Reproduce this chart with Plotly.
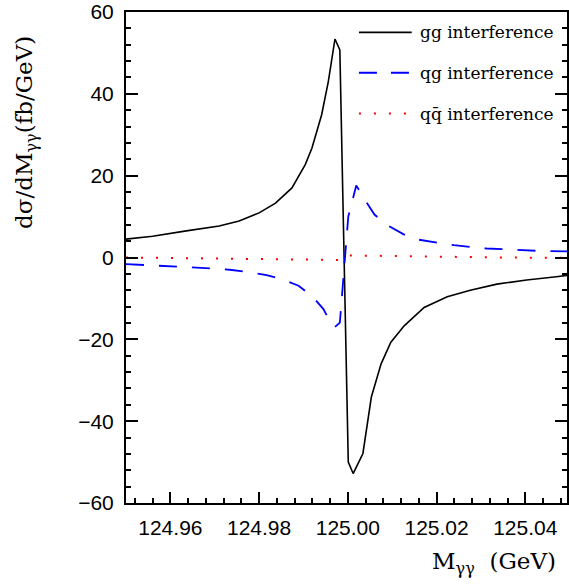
import plotly.graph_objects as go

# gg interference (black solid)
gg_x = [124.950, 124.956, 124.9636, 124.971, 124.9755, 124.980, 124.9837, 124.9874,
        124.9904, 124.9919, 124.9941, 124.9956, 124.9971, 124.9982, 125.0001, 125.0012,
        125.0034, 125.0053, 125.0075, 125.0097, 125.0127, 125.0172, 125.0224, 125.0276,
        125.0336, 125.0403, 125.047, 125.050]
gg_y = [4.5, 5.2, 6.5, 7.7, 8.9, 10.9, 13.3, 17.0,
        22.7, 26.7, 34.9, 43.0, 53.4, 50.7, -50.0, -52.8,
        -47.9, -34.1, -26.0, -20.7, -16.7, -12.2, -9.6, -8.0,
        -6.5, -5.5, -4.7, -4.3]

# qg interference (blue dashed)
qg_x = [124.950, 124.954, 124.958, 124.962, 124.966, 124.9696, 124.9734, 124.9772,
        124.9817, 124.9851, 124.9889, 124.9919, 124.9945, 124.9963, 124.9971, 124.9982,
        125.0001, 125.0019, 125.0038, 125.0060, 125.0086, 125.0127, 125.0157, 125.0202,
        125.0239, 125.0276, 125.0313, 125.0358, 125.0395, 125.0433, 125.050]
qg_y = [-1.6, -1.8, -2.1, -2.3, -2.5, -2.7, -3.0, -3.5,
        -4.3, -5.3, -6.9, -9.4, -12.6, -16.3, -17.0, -15.9,
        10.0, 17.6, 14.2, 10.5, 8.1, 5.6, 4.4, 3.6,
        3.0, 2.6, 2.2, 2.0, 1.75, 1.6, 1.5]

# qqbar interference (red dotted)
qq_x = [124.950, 124.970, 124.990, 124.9982, 125.0001, 125.003, 125.010, 125.020, 125.035, 125.050]
qq_y = [0.0, -0.2, -0.5, -0.6, 0.5, 0.45, 0.3, 0.1, 0.0, -0.1]

legend_labels = ["gg interference", "qg interference", "qq\u0304 interference"]

y_ticks = [-60, -40, -20, 0, 20, 40, 60]
x_ticks = [124.96, 124.98, 125.00, 125.02, 125.04]

fig = go.Figure()
fig.add_trace(go.Scatter(x=gg_x, y=gg_y, mode="lines",
                         line=dict(color="black", width=1.6), name=legend_labels[0]))
fig.add_trace(go.Scatter(x=qg_x, y=qg_y, mode="lines",
                         line=dict(color="blue", width=1.8, dash="18px,15px"), name=legend_labels[1]))
fig.add_trace(go.Scatter(x=qq_x, y=qq_y, mode="lines",
                         line=dict(color="red", width=2, dash="2px,13px"), name=legend_labels[2]))

W, H = 569, 586
L, R, T, B = 126, 0, 10, 83
pw, ph = W - L - R, H - T - B

def px(xp):
    return (xp - L) / pw

def py(yp):
    return (H - B - yp) / ph

styles = [dict(color="black", width=1.6),
          dict(color="blue", width=1.8, dash="18px,14px"),
          dict(color="red", width=2, dash="2px,13px")]
rows = [30.5, 71, 112]
for lab, st, yy in zip(legend_labels, styles, rows):
    fig.add_shape(type="line", xref="paper", yref="paper",
                  x0=px(360), x1=px(413), y0=py(yy), y1=py(yy), line=st)
    fig.add_annotation(xref="paper", yref="paper", x=px(419), y=py(yy),
                       xanchor="left", yanchor="middle", showarrow=False, text=lab,
                       font=dict(family="DejaVu Serif", size=17, color="black"))

fig.add_annotation(xref="paper", yref="paper", x=px(25), y=py(131),
                   xanchor="center", yanchor="middle", showarrow=False, textangle=-90,
                   text="d\u03c3/dM<sub>\u03b3\u03b3</sub>(fb/GeV)",
                   font=dict(family="DejaVu Serif", size=23, color="black"))
fig.add_annotation(xref="paper", yref="paper", x=px(560), y=py(563),
                   xanchor="right", yanchor="middle", showarrow=False,
                   text="M<sub>\u03b3\u03b3</sub>  (GeV)",
                   font=dict(family="DejaVu Serif", size=23, color="black"))

fig.update_layout(
    width=W, height=H,
    margin=dict(l=L, r=R, t=T, b=B, pad=0),
    paper_bgcolor="white", plot_bgcolor="white",
    showlegend=False,
    xaxis=dict(range=[124.95, 125.0494], tickvals=x_ticks,
               ticktext=[f"{v:.2f}" for v in x_ticks],
               ticks="inside", ticklen=11, tickwidth=1.5, tickcolor="black",
               showline=True, linecolor="black", linewidth=2, mirror=True,
               showgrid=False, zeroline=False,
               minor=dict(dtick=0.004, tick0=124.96, ticks="inside", ticklen=5,
                          tickwidth=1.5, tickcolor="black", showgrid=False),
               tickfont=dict(family="Liberation Sans", size=21, color="black"),
               ticklabelstandoff=5, ticklabeloverflow="allow"),
    yaxis=dict(range=[-60, 60], tickvals=y_ticks,
               ticks="inside", ticklen=12, tickwidth=1.5, tickcolor="black",
               showline=True, linecolor="black", linewidth=2, mirror="ticks",
               showgrid=False, zeroline=False,
               minor=dict(dtick=4, tick0=0, ticks="inside", ticklen=5,
                          tickwidth=1.5, tickcolor="black", showgrid=False),
               tickfont=dict(family="Liberation Sans", size=21, color="black"),
               ticklabelstandoff=6, ticklabeloverflow="allow"),
)

fig.write_html("out.html", config={"displayModeBar": False},
               post_script="document.body.style.margin='0px';")
